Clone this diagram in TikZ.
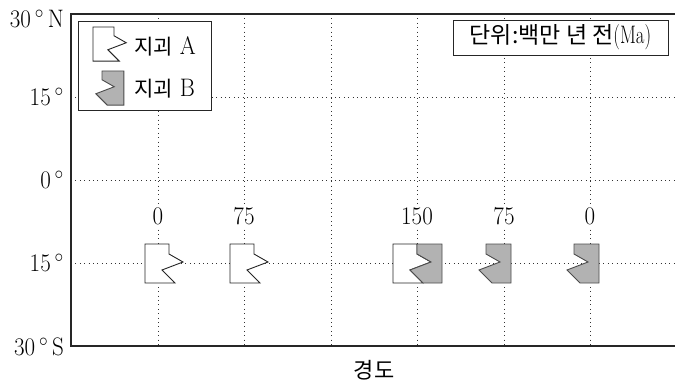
\documentclass[tikz,border=0pt]{standalone}
\usepackage{fontspec}
\newfontfamily\kr{Noto Sans CJK KR}
\newcommand\tallt[1]{\scalebox{1}[1.1]{#1}}
\newcommand\krt[1]{{\kr\fontsize{21}{23}\selectfont #1}}
\begin{document}
\begin{tikzpicture}[x=1pt,y=-1pt,
  every node/.style={font=\fontsize{23}{25}\selectfont, inner sep=1pt},
  axlbl/.style={anchor=east, inner sep=0pt},
  gridline/.style={line width=0.7pt, dash pattern=on 0.8pt off 3.6pt, black!80},
  axisline/.style={line width=1.3pt, black!85},
  blkA/.style={draw=black!85, line width=0.9pt, fill=white, line join=miter},
  blkB/.style={draw=black!70, line width=0.9pt, fill=black!30, line join=miter},
  boxed/.style={draw=black!85, line width=0.9pt, fill=white},
  lbl/.style={fill=white, inner sep=1pt}]
\newcommand\shapeA{(-24,0) -- (0,0) -- (0,10) -- (14,18) -- (-7,26) -- (6,39) -- (-24,39) -- cycle}
\newcommand\shapeB{(0,0) -- (25,0) -- (25,39) -- (6,39) -- (-7,26) -- (14,18) -- (0,10) -- cycle}
\useasboundingbox (0,0) rectangle (675,385);
% grid
\foreach \gx in {158,244,331,417,504,590} \draw[gridline] (\gx,14) -- (\gx,346);
\foreach \gy in {97,180,263} \draw[gridline] (71,\gy) -- (675,\gy);
% axes
\coordinate (tl) at (71,14);
\coordinate (bl) at (71,346);
\coordinate (tr) at (675,14);
\coordinate (br) at (675,346);
\draw[axisline] (tr) -- (tl) -- (bl) -- (br);
% axis labels
\node[axlbl] (n30) at (64,19) {\tallt{30\,$^\circ$\,N}};
\node[axlbl] (n15) at (64,97) {\tallt{15\,$^\circ$}};
\node[axlbl] (eq) at (64,180) {\tallt{0\,$^\circ$}};
\node[axlbl] (s15) at (64,263) {\tallt{15\,$^\circ$}};
\node[axlbl] (s30) at (64,347) {\tallt{30\,$^\circ$\,S}};
\node (xlab) at (374,370) {{\kr\fontsize{22}{24}\selectfont 경도}};
% legend
\node[boxed, minimum width=133pt, minimum height=89pt] (legend) at (144.5,65.5) {};
\begin{scope}[shift={(114,27)}, scale=0.875]
  \draw[blkA] \shapeA;
\end{scope}
\begin{scope}[shift={(102,71)}, scale=0.875]
  \draw[blkB] \shapeB;
\end{scope}
\node[anchor=west, inner sep=0pt] (legA) at (134,46) {\krt{지괴} \tallt{A}};
\node[anchor=west, inner sep=0pt] (legB) at (134,89) {\krt{지괴} \tallt{B}};
% unit box
\node[boxed, minimum width=215pt, minimum height=35pt, inner sep=0pt] (unit) at (560.5,37.5) {{\kr\fontsize{23}{25}\selectfont 단위:백만 년 전}\scalebox{0.85}[1.15]{\fontsize{22}{24}\selectfont(Ma)}};
% blocks
\begin{scope}[shift={(169,244)}] \draw[blkA] \shapeA; \end{scope}
\begin{scope}[shift={(254,244)}] \draw[blkA] \shapeA; \end{scope}
\begin{scope}[shift={(417,244)}] \draw[blkA] \shapeA; \draw[blkB] \shapeB; \end{scope}
\begin{scope}[shift={(486,244)}] \draw[blkB] \shapeB; \end{scope}
\begin{scope}[shift={(574,244)}] \draw[blkB] \shapeB; \end{scope}
% age labels
\node[lbl] (a1) at (158,216) {\tallt{0}};
\node[lbl] (a2) at (244,216) {\tallt{75}};
\node[lbl] (a3) at (417,216) {\tallt{150}};
\node[lbl] (a4) at (504,216) {\tallt{75}};
\node[lbl] (a5) at (590,216) {\tallt{0}};
\end{tikzpicture}
\end{document}
